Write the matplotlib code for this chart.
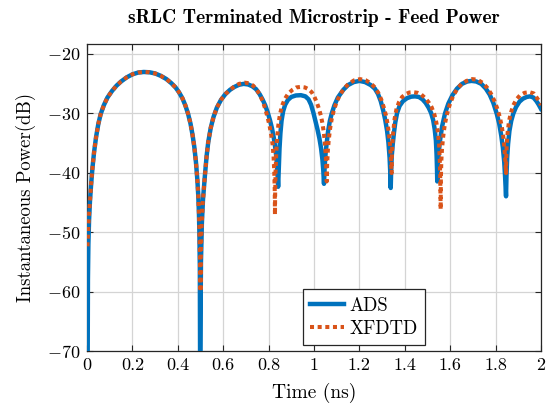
import matplotlib
matplotlib.use('Agg')
import matplotlib.pyplot as plt

# values (time in ns, power in dB)
ads_t = [0.000, 0.003, 0.004, 0.006, 0.009, 0.013, 0.018, 0.024, 0.031, 0.040, 0.050,
         0.060, 0.074, 0.090, 0.110, 0.130, 0.150, 0.175, 0.200, 0.225, 0.250, 0.275,
         0.300, 0.325, 0.350, 0.372, 0.390, 0.405, 0.420, 0.433, 0.445, 0.456, 0.465,
         0.473, 0.480, 0.486, 0.490, 0.493, 0.495, 0.497, 0.498,
         0.499, 0.502, 0.506, 0.511, 0.516, 0.520, 0.527, 0.534, 0.545, 0.557, 0.572,
         0.590, 0.610, 0.630, 0.650, 0.670, 0.690, 0.710, 0.728, 0.745, 0.760, 0.773,
         0.785, 0.796, 0.806, 0.815, 0.823, 0.830, 0.835, 0.839, 0.842,
         0.845, 0.848, 0.852, 0.857, 0.864, 0.873, 0.885, 0.900, 0.920, 0.942, 0.962,
         0.976, 0.987, 0.997, 1.006, 1.015, 1.024, 1.031, 1.037, 1.041, 1.044,
         1.047, 1.051, 1.056, 1.062, 1.070, 1.078, 1.090, 1.105, 1.129, 1.150, 1.175,
         1.200, 1.225, 1.250, 1.268, 1.282, 1.294, 1.305, 1.314, 1.322, 1.328, 1.333,
         1.336, 1.338,
         1.340, 1.343, 1.347, 1.352, 1.358, 1.366, 1.377, 1.392, 1.410, 1.428, 1.445,
         1.462, 1.478, 1.492, 1.505, 1.516, 1.525, 1.532, 1.537, 1.540, 1.542, 1.543,
         1.546, 1.550, 1.556, 1.564, 1.577, 1.592, 1.610, 1.630, 1.652, 1.675, 1.694,
         1.715, 1.737, 1.757, 1.774, 1.790, 1.805, 1.816, 1.825, 1.832, 1.838, 1.842,
         1.846,
         1.848, 1.851, 1.855, 1.861, 1.869, 1.878, 1.890, 1.905, 1.920, 1.937, 1.952,
         1.967, 1.980, 1.990, 2.000]
ads_db = [-70.0, -70.0, -58.0, -52.0, -48.0, -44.8, -42.0, -39.2, -36.6, -34.0, -31.8,
          -30.2, -28.7, -27.4, -26.3, -25.4, -24.7, -24.0, -23.5, -23.2, -23.1, -23.15,
          -23.35, -23.75, -24.3, -25.0, -25.7, -26.5, -27.5, -28.7, -30.1, -31.8, -33.7,
          -35.8, -38.3, -41.2, -43.8, -46.8, -50.0, -56.0, -70.0,
          -70.0, -55.0, -48.5, -44.5, -42.0, -40.2, -37.2, -34.9, -32.5, -30.7, -29.1,
          -27.8, -26.8, -26.1, -25.6, -25.25, -25.1, -25.2, -25.5, -26.0, -26.8, -27.7,
          -28.7, -29.9, -31.2, -32.6, -34.2, -36.0, -37.8, -40.0, -42.4,
          -39.0, -36.0, -33.4, -31.3, -29.7, -28.6, -27.8, -27.3, -27.05, -27.0, -27.2,
          -27.7, -28.6, -29.9, -31.3, -32.7, -34.3, -35.9, -37.8, -39.7, -41.9,
          -39.0, -36.8, -35.0, -33.1, -31.3, -30.1, -28.7, -27.4, -26.1, -25.3, -24.8,
          -24.6, -24.8, -25.3, -25.9, -26.8, -28.0, -29.6, -31.2, -33.0, -35.0, -37.5,
          -40.0, -42.6,
          -39.5, -37.0, -35.2, -33.4, -31.6, -30.0, -28.8, -28.0, -27.5, -27.25, -27.2,
          -27.3, -27.7, -28.3, -29.1, -30.0, -31.2, -32.8, -34.6, -37.0, -39.5, -41.5,
          -38.5, -36.4, -34.4, -32.3, -30.1, -28.4, -27.0, -25.9, -25.1, -24.7, -24.6,
          -24.7, -25.1, -25.9, -26.9, -28.3, -30.1, -31.8, -33.8, -35.8, -38.2, -40.8,
          -44.0,
          -40.5, -37.5, -35.2, -33.0, -31.3, -30.1, -29.0, -28.1, -27.6, -27.3, -27.2,
          -27.4, -28.0, -28.6, -29.3]

xfdtd_t = [0.002, 0.004, 0.006, 0.009, 0.013, 0.018, 0.024, 0.031, 0.040, 0.050,
           0.060, 0.074, 0.090, 0.110, 0.130, 0.150, 0.175, 0.200, 0.225, 0.250, 0.275,
           0.300, 0.325, 0.350, 0.372, 0.390, 0.405, 0.420, 0.433, 0.445, 0.456, 0.465,
           0.473, 0.480, 0.486, 0.490, 0.493, 0.495, 0.497, 0.499, 0.500,
           0.502, 0.505, 0.510, 0.516, 0.520, 0.527, 0.534, 0.545, 0.557, 0.572,
           0.590, 0.610, 0.630, 0.650, 0.670, 0.695, 0.715, 0.732, 0.748, 0.762, 0.775,
           0.786, 0.796, 0.805, 0.812, 0.818, 0.822, 0.825, 0.827, 0.828,
           0.829, 0.831, 0.834, 0.838, 0.843, 0.850, 0.860, 0.872, 0.887, 0.905, 0.922,
           0.942, 0.960, 0.976, 0.990, 1.002, 1.013, 1.022, 1.030, 1.037, 1.043, 1.048,
           1.052, 1.054, 1.056,
           1.058, 1.061, 1.065, 1.071, 1.078, 1.087, 1.100, 1.115, 1.132, 1.152, 1.177,
           1.203, 1.228, 1.250, 1.268, 1.283, 1.296, 1.307, 1.317, 1.325, 1.331, 1.336,
           1.339, 1.342,
           1.343, 1.345, 1.349, 1.355, 1.363, 1.374, 1.388, 1.405, 1.420, 1.438, 1.456,
           1.473, 1.490, 1.505, 1.518, 1.530, 1.539, 1.546, 1.551, 1.554, 1.556, 1.557,
           1.558,
           1.559, 1.561, 1.564, 1.569, 1.576, 1.585, 1.597, 1.612, 1.630, 1.650, 1.672,
           1.697, 1.720, 1.742, 1.762, 1.779, 1.794, 1.807, 1.818, 1.827, 1.834, 1.839,
           1.843, 1.846,
           1.847, 1.849, 1.853, 1.859, 1.867, 1.878, 1.892, 1.908, 1.928, 1.950, 1.968,
           1.983, 1.992, 2.000]
xfdtd_db = [-52.4, -50.5, -49.0, -47.0, -44.8, -42.0, -39.2, -36.6, -34.0, -31.8,
            -30.2, -28.7, -27.4, -26.3, -25.4, -24.7, -24.0, -23.5, -23.2, -23.1, -23.15,
            -23.35, -23.75, -24.3, -25.0, -25.7, -26.5, -27.5, -28.7, -30.1, -31.8, -33.7,
            -35.8, -38.3, -41.2, -43.8, -46.8, -49.5, -53.0, -57.0, -60.0,
            -53.0, -49.0, -45.0, -42.0, -40.2, -37.2, -34.9, -32.5, -30.7, -29.1,
            -27.8, -26.8, -26.1, -25.5, -25.1, -24.9, -25.0, -25.4, -26.1, -27.0, -28.1,
            -29.4, -30.8, -32.3, -33.8, -35.4, -37.5, -40.0, -43.0, -47.1,
            -43.0, -39.5, -36.5, -34.0, -32.0, -30.2, -28.7, -27.6, -26.7, -26.1, -25.7,
            -25.6, -25.7, -26.0, -26.5, -27.3, -28.3, -29.3, -30.4, -31.7, -33.2, -35.0,
            -37.3, -39.2, -41.5,
            -38.5, -36.3, -34.5, -32.6, -31.0, -29.6, -28.1, -26.9, -25.9, -25.1, -24.5,
            -24.3, -24.5, -25.0, -25.7, -26.6, -27.7, -29.0, -30.4, -32.0, -33.8, -35.8,
            -37.8, -40.1,
            -37.5, -35.3, -33.2, -31.0, -29.4, -28.2, -27.3, -26.8, -26.55, -26.5, -26.6,
            -26.9, -27.5, -28.2, -29.0, -30.2, -31.6, -33.3, -35.3, -37.8, -40.5, -43.0,
            -46.2,
            -41.0, -38.0, -36.0, -34.0, -32.0, -30.3, -28.7, -27.2, -26.0, -25.1, -24.6,
            -24.3, -24.4, -24.9, -25.7, -26.7, -27.9, -29.2, -30.6, -32.2, -34.0, -36.0,
            -38.0, -40.1,
            -37.5, -35.3, -33.3, -31.4, -30.0, -28.7, -27.7, -27.0, -26.6, -26.5, -26.7,
            -27.5, -28.0, -28.7]

x_ticks = [0, 0.2, 0.4, 0.6, 0.8, 1, 1.2, 1.4, 1.6, 1.8, 2]
x_ticklabels = ['0', '0.2', '0.4', '0.6', '0.8', '1', '1.2', '1.4', '1.6', '1.8', '2']
y_ticks = [-70, -60, -50, -40, -30, -20]

plt.rcParams['font.family'] = 'cmr10'
plt.rcParams['mathtext.fontset'] = 'cm'
plt.rcParams['axes.formatter.use_mathtext'] = True

fig = plt.figure(figsize=(5.48, 4.09), dpi=100)
ax = fig.add_axes([0.1588, 0.1418, 0.8284, 0.7506])

ax.plot(ads_t, ads_db, color='#0072BD', lw=3.2, label='ADS', zorder=3)
ax.plot(xfdtd_t, xfdtd_db, color='#D95319', lw=2.9, dashes=(1, 0.9), label='XFDTD', zorder=4)

ax.set_xlim(0, 2)
ax.set_ylim(-70, -18.4)
ax.set_xticks(x_ticks)
ax.set_xticklabels(x_ticklabels)
ax.set_yticks(y_ticks)
ax.grid(True, color='#d4d4d4', lw=0.9)
ax.set_axisbelow(True)
ax.tick_params(direction='in', length=4, width=0.8, top=True, right=True,
               labelsize=13, color='#262626', pad=5)
for s in ax.spines.values():
    s.set_color('#262626')
    s.set_linewidth(0.9)

ax.set_xlabel('Time (ns)', fontsize=14, labelpad=7)
ax.set_ylabel('Instantaneous Power(dB)', fontsize=13.5, labelpad=8)
ax.set_title('sRLC Terminated Microstrip - Feed Power', fontfamily='cmb10',
             fontsize=14, pad=15)

leg = ax.legend(loc='lower center', bbox_to_anchor=(0.61, 0.0195), borderaxespad=0,
                fontsize=13.5, fancybox=False, framealpha=1, edgecolor='#262626',
                handlelength=1.8, handletextpad=0.3, borderpad=0.4, labelspacing=0.25)
leg.get_frame().set_linewidth(0.9)

fig.savefig('out.png', dpi=100)
